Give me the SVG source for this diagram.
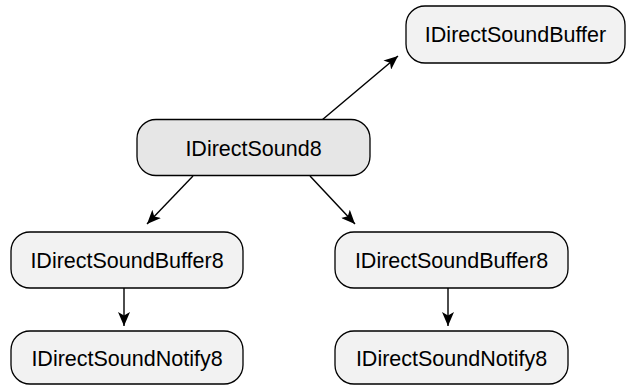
<svg xmlns="http://www.w3.org/2000/svg" width="627" height="386" viewBox="0 0 627 386">
<style>
.n rect{fill:#f2f2f2;stroke:#000;stroke-width:1.3}
.n.c rect{fill:#e6e6e6}
.n text{font-family:"Liberation Sans",Arial,sans-serif;font-size:21.5px;text-anchor:middle;fill:#000}
.e line{stroke:#000;stroke-width:1.4;marker-end:url(#a)}
</style>
<defs>
<marker id="a" viewBox="0 0 14 12" refX="14" refY="6" markerWidth="14" markerHeight="12" markerUnits="userSpaceOnUse" orient="auto">
<path d="M0,0 L14,6 L0,12 L3.5,6 Z" fill="#000"/>
</marker>
</defs>
<g class="e">
<line x1="322" y1="120" x2="398" y2="56"/>
<line x1="193" y1="176" x2="147" y2="224"/>
<line x1="310" y1="176" x2="355" y2="224"/>
<line x1="124" y1="288" x2="124" y2="326"/>
<line x1="448" y1="288" x2="448" y2="326"/>
</g>
<g id="ds8" class="n c"><rect x="137" y="119.5" width="233" height="56" rx="19"/><text x="253.5" y="155.5">IDirectSound8</text></g>
<g id="dsb" class="n"><rect x="406" y="6" width="219" height="57" rx="19"/><text x="515.5" y="42">IDirectSoundBuffer</text></g>
<g id="dsb8l" class="n"><rect x="11" y="232" width="232" height="56" rx="19"/><text x="127" y="268">IDirectSoundBuffer8</text></g>
<g id="dsb8r" class="n"><rect x="335" y="232" width="233" height="56" rx="19"/><text x="451.5" y="268">IDirectSoundBuffer8</text></g>
<g id="dsnl" class="n"><rect x="11" y="331" width="232" height="53" rx="19"/><text x="127" y="365.5">IDirectSoundNotify8</text></g>
<g id="dsnr" class="n"><rect x="335" y="331" width="233" height="53" rx="19"/><text x="451.5" y="365.5">IDirectSoundNotify8</text></g>
</svg>
